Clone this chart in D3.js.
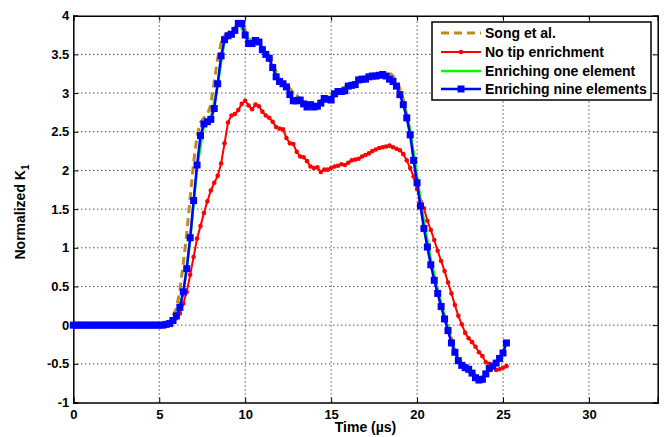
<!DOCTYPE html>
<html>
<head>
<meta charset="utf-8">
<script src="https://cdn.jsdelivr.net/npm/d3@7"></script>
<style>
  body { margin: 0; background: #fff; }
  svg text { font-family: "Liberation Sans", Arial, sans-serif; font-weight: bold; }
</style>
</head>
<body>
<div id="chart"></div>
<script>
// time grid of the marked curves (us)
var tFine = [
  0, 0.2, 0.4, 0.6, 0.8,
  1, 1.2, 1.4, 1.6, 1.8,
  2, 2.2, 2.4, 2.6, 2.8,
  3, 3.2, 3.4, 3.6, 3.8,
  4, 4.2, 4.4, 4.6, 4.8,
  5, 5.2, 5.4, 5.6, 5.8,
  6, 6.2, 6.4, 6.6, 6.8,
  7, 7.2, 7.4, 7.6, 7.8,
  8, 8.2, 8.4, 8.6, 8.8,
  9, 9.2, 9.4, 9.6, 9.8,
  10, 10.2, 10.4, 10.6, 10.8,
  11, 11.2, 11.4, 11.6, 11.8,
  12, 12.2, 12.4, 12.6, 12.8,
  13, 13.2, 13.4, 13.6, 13.8,
  14, 14.2, 14.4, 14.6, 14.8,
  15, 15.2, 15.4, 15.6, 15.8,
  16, 16.2, 16.4, 16.6, 16.8,
  17, 17.2, 17.4, 17.6, 17.8,
  18, 18.2, 18.4, 18.6, 18.8,
  19, 19.2, 19.4, 19.6, 19.8,
  20, 20.2, 20.4, 20.6, 20.8,
  21, 21.2, 21.4, 21.6, 21.8,
  22, 22.2, 22.4, 22.6, 22.8,
  23, 23.2, 23.4, 23.6, 23.8,
  24, 24.2, 24.4, 24.6, 24.8,
  25, 25.2
];

// Enriching nine elements
var nineVals = [
  0, 0, 0, 0, 0,
  0, 0, 0, 0, 0,
  0, 0, 0, 0, 0,
  0, 0, 0, 0, 0,
  0, 0, 0, 0, 0,
  0, 0, 0.01, 0.02, 0.06,
  0.12, 0.23, 0.43, 0.73, 1.13,
  1.61, 2.07, 2.45, 2.60, 2.63,
  2.66, 2.80, 3.12, 3.48, 3.69,
  3.74, 3.76, 3.81, 3.90, 3.90,
  3.75, 3.64, 3.64, 3.68, 3.66,
  3.56, 3.50, 3.45, 3.33, 3.21,
  3.15, 3.12, 3.08, 2.98, 2.90,
  2.90, 2.91, 2.86, 2.82, 2.85,
  2.82, 2.83, 2.87, 2.93, 2.92,
  2.91, 2.99, 3.02, 3.02, 3.03,
  3.09, 3.10, 3.11, 3.17, 3.18,
  3.18, 3.21, 3.22, 3.22, 3.23,
  3.24, 3.22, 3.18, 3.15, 3.09,
  2.98, 2.85, 2.68, 2.46, 2.13,
  1.84, 1.54, 1.25, 1.01, 0.78,
  0.58, 0.41, 0.24, 0.08, -0.07,
  -0.23, -0.35, -0.46, -0.52, -0.55,
  -0.57, -0.62, -0.68, -0.71, -0.70,
  -0.63, -0.56, -0.53, -0.49, -0.43,
  -0.36, -0.23
];

// No tip enrichment
var noTipVals = [
  0, 0, 0, 0, 0,
  0, 0, 0, 0, 0,
  0, 0, 0, 0, 0,
  0, 0, 0, 0, 0,
  0, 0, 0, 0, 0,
  0, 0, 0, 0.02, 0.04,
  0.09, 0.15, 0.28, 0.43, 0.65,
  0.88, 1.12, 1.28, 1.45, 1.60,
  1.74, 1.84, 1.93, 2.09, 2.35,
  2.62, 2.71, 2.73, 2.78, 2.86,
  2.90, 2.84, 2.79, 2.85, 2.83,
  2.76, 2.71, 2.68, 2.63, 2.56,
  2.54, 2.53, 2.42, 2.35, 2.34,
  2.24, 2.18, 2.17, 2.12, 2.05,
  2.03, 2.04, 1.98, 2.01, 2.01,
  2.03, 2.05, 2.06, 2.08, 2.07,
  2.10, 2.13, 2.14, 2.15, 2.18,
  2.20, 2.22, 2.25, 2.27, 2.29,
  2.30, 2.31, 2.32, 2.30, 2.28,
  2.26, 2.21, 2.13, 2.03, 1.92,
  1.76, 1.60, 1.51, 1.35, 1.23,
  1.10, 0.96, 0.83, 0.70, 0.55,
  0.41, 0.26, 0.12, 0.01, -0.10,
  -0.17, -0.22, -0.28, -0.35, -0.40,
  -0.48, -0.50, -0.52, -0.58, -0.57,
  -0.55, -0.53
];

// Enriching one element (no markers)
var oneTimes = [0, 5.2, 5.6, 6.0, 6.4, 6.8, 7.2, 7.6, 8.0, 8.4, 8.8, 9.2, 9.6, 10.0, 10.4, 10.8,
  11.2, 11.6, 12.0, 12.4, 12.8, 13.2, 13.6, 14.0, 14.4, 14.8, 15.2, 15.6, 16.0, 16.4, 16.8,
  17.2, 17.6, 18.0, 18.4, 18.8, 19.2, 19.6, 20.0, 20.4, 20.8, 21.2, 21.6, 22.0, 22.4, 22.8,
  23.2, 23.6, 24.0, 24.4, 24.8, 25.2];
var oneVals = [0, 0, 0.02, 0.11, 0.42, 1.10, 2.03, 2.58, 2.68, 3.10, 3.68, 3.77, 3.90, 3.76, 3.64, 3.67,
  3.50, 3.34, 3.16, 3.09, 2.92, 2.91, 2.83, 2.83, 2.87, 2.92, 2.98, 3.02, 3.08, 3.11, 3.17,
  3.20, 3.22, 3.24, 3.19, 3.10, 2.89, 2.52, 1.92, 1.34, 0.85, 0.46, 0.12, -0.19, -0.43, -0.54,
  -0.61, -0.69, -0.63, -0.53, -0.43, -0.23];

// Song et al.
var songTimes = [0, 5.0, 5.4, 5.7, 6.0, 6.2, 6.4, 6.6, 6.8, 7.0, 7.2, 7.4, 7.6, 7.8, 8.0, 8.2, 8.4,
  8.6, 8.8, 9.0, 9.3, 9.6, 9.9, 10.2, 10.5, 10.8, 11.1, 11.4, 11.7, 12.0, 12.4, 12.8, 13.2,
  13.6, 14.0, 14.4, 14.8, 15.2, 15.6, 16.0, 16.4, 16.8, 17.2, 17.6, 18.0, 18.3, 18.6, 18.9,
  19.2, 19.5, 19.8, 20.1, 20.4, 20.7, 21.0, 21.3, 21.6, 21.9, 22.2, 22.5, 22.8, 23.1, 23.4, 23.7];
var songVals = [0, 0, 0.02, 0.07, 0.22, 0.45, 0.80, 1.18, 1.65, 2.10, 2.45, 2.62, 2.68, 2.72, 2.85, 3.15, 3.45,
  3.65, 3.74, 3.78, 3.82, 3.90, 3.88, 3.70, 3.68, 3.66, 3.56, 3.48, 3.33, 3.18, 3.12, 3.00, 2.93,
  2.88, 2.86, 2.90, 2.96, 3.01, 3.06, 3.10, 3.14, 3.19, 3.22, 3.24, 3.26, 3.28, 3.22, 3.12,
  2.92, 2.62, 2.20, 1.72, 1.30, 0.92, 0.60, 0.35, 0.12, -0.08, -0.32, -0.48, -0.56, -0.62, -0.68, -0.72];

var xTicks = [0, 5, 10, 15, 20, 25, 30];
var yTicks = [-1, -0.5, 0, 0.5, 1, 1.5, 2, 2.5, 3, 3.5, 4];
var legendLabels = ["Song et al.", "No tip enrichment", "Enriching one element", "Enriching nine elements"];

var width = 668;
var height = 437;

var svg = d3.select("#chart")
    .append("svg")
    .attr("width", width)
    .attr("height", height);

var x = d3.scaleLinear().domain([0, 34]).range([73.3, 657.7]);
var y = d3.scaleLinear().domain([-1, 4]).range([402.5, 15.7]);

// dotted grid
svg.append("g")
    .selectAll("line")
    .data(xTicks.filter(d => d > 0))
    .enter().append("line")
    .attr("x1", d => x(d)).attr("x2", d => x(d))
    .attr("y1", y(-1)).attr("y2", y(4))
    .attr("stroke", "#000").attr("stroke-width", 1).attr("stroke-dasharray", "1,3");
svg.append("g")
    .selectAll("line")
    .data(yTicks.filter(d => d > -1 && d < 4))
    .enter().append("line")
    .attr("x1", x(0)).attr("x2", x(34))
    .attr("y1", d => y(d)).attr("y2", d => y(d))
    .attr("stroke", "#000").attr("stroke-width", 1).attr("stroke-dasharray", "1,3");

// axes (ticks pointing inward, box on)
var fmt = d => String(d);
var axBottom = svg.append("g").attr("transform", "translate(0," + y(-1) + ")")
    .call(d3.axisBottom(x).tickValues(xTicks).tickSize(-5).tickPadding(7).tickFormat(fmt));
var axTop = svg.append("g").attr("transform", "translate(0," + y(4) + ")")
    .call(d3.axisTop(x).tickValues(xTicks).tickSize(-5).tickFormat(""));
var axLeft = svg.append("g").attr("transform", "translate(" + x(0) + ",0)")
    .call(d3.axisLeft(y).tickValues(yTicks).tickSize(-5).tickPadding(4).tickFormat(fmt));
var axRight = svg.append("g").attr("transform", "translate(" + x(34) + ",0)")
    .call(d3.axisRight(y).tickValues(yTicks).tickSize(-5).tickFormat(""));
[axBottom, axTop, axLeft, axRight].forEach(function(g) {
  g.select(".domain").attr("stroke", "#000").attr("stroke-width", 1.5);
  g.selectAll(".tick line").attr("stroke", "#000").attr("stroke-width", 1);
  g.selectAll("text").attr("fill", "#000").style("font-size", "13px").style("font-weight", "bold")
    .style("font-family", "'Liberation Sans', Arial, sans-serif");
});

var line = d3.line().x(d => x(d[0])).y(d => y(d[1]));

var songData = d3.zip(songTimes, songVals);
var noTipData = d3.zip(tFine, noTipVals);
var oneData = d3.zip(oneTimes, oneVals);
var nineData = d3.zip(tFine, nineVals);

var songColor = "#c08a22";

svg.append("path").datum(songData).attr("d", line)
    .attr("fill", "none").attr("stroke", songColor).attr("stroke-width", 3)
    .attr("stroke-dasharray", "8,5");

svg.append("path").datum(noTipData).attr("d", line)
    .attr("fill", "none").attr("stroke", "#ff0000").attr("stroke-width", 2);
svg.append("g").selectAll("circle").data(noTipData).enter().append("circle")
    .attr("cx", d => x(d[0])).attr("cy", d => y(d[1])).attr("r", 2.3)
    .attr("fill", "#ff0000");

svg.append("path").datum(oneData).attr("d", line)
    .attr("fill", "none").attr("stroke", "#00ff00").attr("stroke-width", 2.5);

svg.append("path").datum(nineData).attr("d", line)
    .attr("fill", "none").attr("stroke", "#0000ff").attr("stroke-width", 2.5);
svg.append("g").selectAll("rect").data(nineData).enter().append("rect")
    .attr("x", d => x(d[0]) - 3.5).attr("y", d => y(d[1]) - 3.5)
    .attr("width", 7).attr("height", 7)
    .attr("fill", "#0000ff");

// legend
var lg = svg.append("g").attr("transform", "translate(432,22)");
lg.append("rect").attr("width", 219).attr("height", 78)
    .attr("fill", "#fff").attr("stroke", "#000").attr("stroke-width", 1.5);
var rowY = [11, 30, 49, 67];
legendLabels.forEach(function(lab, i) {
  var ly = rowY[i];
  var s = lg.append("line").attr("x1", 9).attr("x2", 49).attr("y1", ly).attr("y2", ly);
  if (i === 0) s.attr("stroke", songColor).attr("stroke-width", 3).attr("stroke-dasharray", "8,5");
  if (i === 1) {
    s.attr("stroke", "#ff0000").attr("stroke-width", 2);
    lg.append("circle").attr("cx", 29).attr("cy", ly).attr("r", 2.3).attr("fill", "#ff0000");
  }
  if (i === 2) s.attr("stroke", "#00ff00").attr("stroke-width", 2.5);
  if (i === 3) {
    s.attr("stroke", "#0000ff").attr("stroke-width", 2.5);
    lg.append("rect").attr("x", 25.5).attr("y", ly - 3.5).attr("width", 7).attr("height", 7).attr("fill", "#0000ff");
  }
  lg.append("text").attr("x", 53).attr("y", ly + 5).style("font-size", "14px").text(lab);
});

// axis titles
svg.append("text").attr("x", x(17)).attr("y", 432).attr("text-anchor", "middle")
    .style("font-size", "14px").text("Time (\u00b5s)");
var yl = svg.append("text").attr("transform", "translate(25,212) rotate(-90)")
    .attr("text-anchor", "middle").style("font-size", "14px");
yl.append("tspan").text("Normalized K");
yl.append("tspan").attr("dy", 4).style("font-size", "10px").text("1");
</script>
</body>
</html>
